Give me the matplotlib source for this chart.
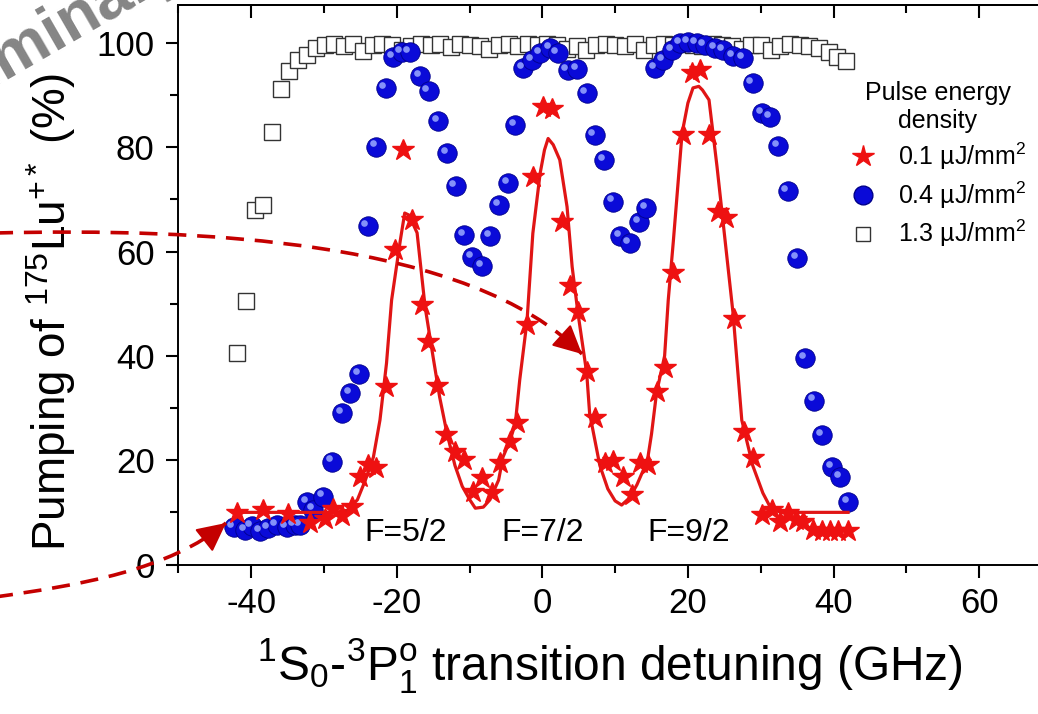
import numpy as np
import matplotlib
matplotlib.use('Agg')
import matplotlib.pyplot as plt
from matplotlib.ticker import MultipleLocator
from matplotlib.path import Path
from matplotlib.patches import PathPatch, FancyArrowPatch
from matplotlib.transforms import Affine2D, offset_copy
from matplotlib.lines import Line2D

plt.rcParams['font.family'] = ['Liberation Sans', 'DejaVu Sans']
plt.rcParams['mathtext.fontset'] = 'custom'
plt.rcParams['mathtext.rm'] = 'Liberation Sans'
plt.rcParams['mathtext.it'] = 'Liberation Sans:italic'
plt.rcParams['mathtext.default'] = 'rm'
plt.rcParams['axes.unicode_minus'] = False

# 1.3 uJ/mm^2 (open squares)
sq_x = [-41.9, -40.7, -39.4, -38.3, -37.1, -35.9, -34.8, -33.6, -32.3, -31.1, -29.9,
        -28.6, -27.3, -26.0, -24.6, -23.3, -22.0, -20.6, -19.3, -18.0, -16.6,
        -15.3, -14.0, -12.6, -11.3, -10.0, -8.6, -7.3, -6.0, -4.6, -3.3,
        -2.0, -0.6, 0.7, 2.0, 3.4, 4.7, 6.0, 7.4, 8.7, 10.0,
        11.4, 12.7, 14.0, 15.4, 16.7, 18.0, 19.4, 20.7, 22.0, 23.4,
        24.7, 26.0, 27.4, 28.7, 30.0, 31.4, 32.7, 34.0, 35.4, 36.7,
        38.0, 39.4, 40.5, 41.7]
sq_y = [40.6, 50.5, 68.0, 68.9, 82.9, 91.2, 94.6, 96.7, 97.7, 99.0, 99.6,
        99.8, 99.4, 99.8, 98.4, 99.6, 99.9, 99.7, 98.6, 99.5, 99.8,
        99.6, 99.9, 99.3, 99.8, 99.7, 99.5, 98.8, 99.6, 99.9, 99.5,
        99.8, 99.6, 99.9, 99.7, 98.9, 99.5, 98.7, 99.6, 99.8, 99.7,
        99.5, 99.9, 98.7, 99.6, 99.8, 99.7, 99.9, 99.6, 99.5, 99.8,
        99.7, 99.4, 98.8, 99.6, 99.7, 98.6, 99.5, 99.8, 99.6, 99.5,
        99.1, 98.2, 97.4, 96.6]

# 0.4 uJ/mm^2 (blue spheres)
ball_x = [-42.4, -40.8, -39.9, -38.8, -37.7, -36.5, -35.1, -34.0, -33.3, -32.3,
          -31.5, -30.1, -28.9, -27.5, -26.4, -25.2, -24.0, -22.8, -21.5, -20.5,
          -19.3, -18.2, -16.8, -15.6, -14.3, -13.1, -11.9, -10.7, -9.6, -8.3,
          -7.2, -5.9, -4.7, -3.7, -2.6, -1.4, -0.3, 1.1, 2.1, 3.5,
          4.8, 6.1, 7.2, 8.5, 9.7, 10.7, 12.0, 13.3, 14.3, 15.5,
          16.6, 17.8, 18.9, 20.0, 21.2, 22.3, 23.7, 24.8, 26.2, 27.6,
          28.9, 30.2, 31.3, 32.4, 33.7, 35.0, 36.1, 37.3, 38.4, 39.8,
          40.9, 42.0]
ball_y = [7.2, 6.6, 7.4, 6.4, 7.0, 7.6, 7.2, 7.6, 7.6, 12.0,
          10.5, 13.0, 19.7, 29.0, 32.9, 36.5, 64.9, 80.1, 91.3, 97.3,
          98.3, 98.3, 93.7, 90.8, 85.0, 78.9, 72.6, 63.2, 59.0, 57.2,
          63.0, 68.9, 73.1, 84.3, 95.2, 96.7, 98.1, 99.0, 98.1, 94.8,
          95.0, 90.4, 82.4, 77.6, 69.6, 63.0, 61.6, 65.7, 68.3, 95.2,
          96.7, 98.7, 100.0, 100.2, 100.0, 99.6, 99.0, 98.7, 97.5, 97.1,
          92.3, 86.6, 85.8, 80.2, 71.6, 58.8, 39.6, 31.4, 24.8, 18.7,
          16.8, 12.0]

# 0.1 uJ/mm^2 (red stars)
star_x = [-41.9, -38.3, -35.0, -31.9, -29.9, -28.7, -27.5, -26.2, -25.0, -23.9,
          -22.8, -21.5, -20.2, -19.1, -17.9, -16.5, -15.7, -14.5, -13.2, -12.0,
          -10.8, -9.5, -8.3, -6.9, -5.8, -4.4, -3.5, -2.1, -1.3, 0.1,
          1.3, 2.7, 3.8, 4.9, 6.1, 7.3, 8.6, 9.7, 11.1, 12.3,
          13.4, 14.5, 15.7, 16.8, 18.0, 19.3, 20.5, 21.7, 22.9, 24.1,
          25.3, 26.4, 27.7, 28.9, 30.2, 31.5, 32.6, 33.7, 34.9, 35.8,
          37.2, 38.4, 39.5, 40.6, 42.0]
star_y = [9.9, 10.4, 9.6, 7.9, 8.7, 10.6, 9.3, 11.0, 16.8, 19.1,
          18.5, 34.0, 60.3, 79.5, 66.1, 49.8, 42.7, 34.2, 24.8, 21.6,
          20.0, 13.9, 16.6, 13.7, 19.5, 23.5, 27.1, 45.9, 74.3, 87.7,
          87.3, 65.7, 53.4, 48.4, 36.9, 28.1, 19.5, 19.8, 16.8, 13.3,
          19.5, 19.1, 33.1, 37.7, 55.9, 82.4, 94.2, 94.8, 82.4, 67.6,
          66.4, 47.1, 25.4, 20.4, 9.5, 10.4, 8.2, 9.9, 8.5, 8.2,
          6.6, 6.4, 6.4, 6.4, 6.4]

# fit curve through the 0.1 uJ/mm^2 data
fit_x = [-42, -30, -28, -26.8, -25.4, -24.3, -23.2, -22.3, -21.4, -20.7,
         -19.5, -18.9, -18.3, -17.2, -16.1, -15.0, -14.1, -13.1, -12.0, -11.0,
         -10.0, -9.2, -8.1, -7.2, -6.0, -5.4, -4.4, -3.7, -3.1, -2.1,
         -1.3, -0.3, 0.3, 0.8, 1.5, 2.4, 3.4, 4.1, 4.9, 6.1,
         6.5, 7.9, 9.0, 10.0, 10.9, 12.0, 13.0, 14.0, 14.5, 15.0,
         15.7, 16.8, 17.3, 18.0, 19.2, 20.0, 20.7, 21.5, 22.0, 22.9,
         24.0, 25.3, 26.2, 27.4, 28.9, 30.3, 31.5, 33.0, 42.0]
fit_y = [10.0, 10.0, 10.1, 10.4, 12.4, 16.2, 20.6, 27.7, 38.6, 50.7,
         62.2, 67.4, 67.0, 63.6, 49.4, 39.8, 32.1, 25.2, 19.0, 15.0,
         12.5, 10.8, 11.0, 12.4, 16.2, 20.6, 23.9, 27.1, 35.4, 46.7,
         63.5, 75.0, 79.5, 81.7, 80.5, 77.6, 68.6, 57.1, 48.2, 36.7,
         29.0, 19.0, 14.5, 12.2, 11.4, 12.8, 15.3, 18.5, 20.5, 25.0,
         33.0, 40.0, 50.7, 62.0, 82.7, 88.5, 91.4, 91.7, 91.0, 89.1,
         76.3, 59.7, 48.2, 27.7, 19.0, 13.7, 10.5, 10.0, 10.0]

peak_labels = ['F=5/2', 'F=7/2', 'F=9/2']
peak_pos = [-18.7, 0.0, 20.1]

legend_labels = ['0.1 µJ/mm$^2$', '0.4 µJ/mm$^2$', '1.3 µJ/mm$^2$']

red = '#ee1111'
blue = '#0a0ad8'
arrow_red = '#c40000'

W, H = 1038, 714
fig = plt.figure(figsize=(W / 100, H / 100), dpi=100)
ax = fig.add_axes([178.3 / W, 1 - 564.5 / H, 873.6 / W, 559.5 / H])

# Daten
ax.plot(sq_x, sq_y, 's', ms=11.5, mfc='white', mec='#333333', mew=1.0, zorder=2)
ax.plot(ball_x, ball_y, 'o', ms=14, color=blue, mec='#00008a', mew=0.6, zorder=3)
glanz = offset_copy(ax.transData, fig=fig, x=-2.4, y=2.4, units='points')
ax.plot(ball_x, ball_y, 'o', ms=4.8, color='#9aaaff', mew=0, alpha=0.85,
        transform=glanz, zorder=3.1)
ax.plot(fit_x, fit_y, '-', color='#e01515', lw=2.3, zorder=4)
ax.plot(star_x, star_y, '*', ms=16.5, color=red, mec=red, zorder=5)

for lab, xp in zip(peak_labels, peak_pos):
    ax.text(xp, 6.0, lab, fontsize=23, ha='center', va='center', zorder=6)

# Achsen
ax.set_xlim(-50, 70)
ax.set_ylim(0, 107.3)
ax.xaxis.set_major_locator(MultipleLocator(20))
ax.xaxis.set_minor_locator(MultipleLocator(10))
ax.yaxis.set_major_locator(MultipleLocator(20))
ax.yaxis.set_minor_locator(MultipleLocator(10))
ax.tick_params(which='both', direction='out', top=False, right=False,
               width=1.5, labelsize=25)
ax.tick_params(which='major', length=9)
ax.tick_params(which='minor', length=5.5)
ax.tick_params(axis='x', pad=7)
ax.tick_params(axis='y', pad=8)
for s in ax.spines.values():
    s.set_linewidth(1.4)

secax = ax.secondary_xaxis('top')
secax.xaxis.set_major_locator(MultipleLocator(20))
secax.xaxis.set_minor_locator(MultipleLocator(10))
secax.tick_params(which='both', direction='in', labeltop=False, width=1.5)
secax.tick_params(which='major', length=9.5)
secax.tick_params(which='minor', length=5.5)
secax.spines['top'].set_linewidth(1.4)

ax.set_xlabel(r'$^{1}$S$_{0}$-$^{3}$P$^{o}_{1}$ transition detuning (GHz)', fontsize=34.5)
ax.set_ylabel(r'Pumping of $^{175}$Lu$^{+*}$ (%)', fontsize=33)
ax.xaxis.set_label_coords(0.494, -0.128)
ax.yaxis.set_label_coords(-0.115, 0.452)

# Legende
handles = [
    Line2D([], [], ls='none', marker='*', ms=16, color=red),
    Line2D([], [], ls='none', marker='o', ms=13.5, color=blue, mec='#00008a'),
    Line2D([], [], ls='none', marker='s', ms=10, mfc='white', mec='#333333', mew=1.0),
]
leg = ax.legend(handles, legend_labels, title='Pulse energy\ndensity',
                loc='upper left', bbox_to_anchor=(850 / W, 1 - 81 / H),
                bbox_transform=fig.transFigure, frameon=False, fontsize=18,
                title_fontsize=18, handlelength=1.0, handletextpad=0.9,
                labelspacing=0.3, borderpad=0, borderaxespad=0)
leg.get_title().set_multialignment('center')

# gestrichelte Pfeile (Pixelkoordinaten, y nach unten)
pix = Affine2D().scale(1 / W, -1 / H).translate(0, 1) + fig.transFigure


def bezier(p, t):
    p = np.array(p, dtype=float)
    return ((1 - t) ** 3 * p[0] + 3 * t * (1 - t) ** 2 * p[1]
            + 3 * t ** 2 * (1 - t) * p[2] + t ** 3 * p[3])


def dashed_arrow(pts):
    path = Path(pts, [Path.MOVETO, Path.CURVE4, Path.CURVE4, Path.CURVE4])
    fig.add_artist(PathPatch(path, fill=False, ec=arrow_red, lw=2.6,
                             ls=(0, (5, 3)), transform=pix, clip_on=False))
    start = bezier(pts, 0.95)
    fig.add_artist(FancyArrowPatch(tuple(start), tuple(pts[3]),
                                   arrowstyle='-|>,head_length=0.9,head_width=0.45',
                                   mutation_scale=20, color=arrow_red, lw=1.5,
                                   shrinkA=0, shrinkB=0, transform=pix))


dashed_arrow([(-5, 233), (200, 228), (470, 240), (582, 354)])
dashed_arrow([(-5, 597), (80, 585), (170, 570), (226, 523)])

# Wasserzeichen (am Rand abgeschnitten wie im Original)
fig.text(-0.114, 0.79, 'Preliminary', rotation=30, rotation_mode='anchor',
         ha='left', va='baseline', fontsize=47, fontweight='bold', color='#858585')

fig.savefig('out.png', dpi=100)
